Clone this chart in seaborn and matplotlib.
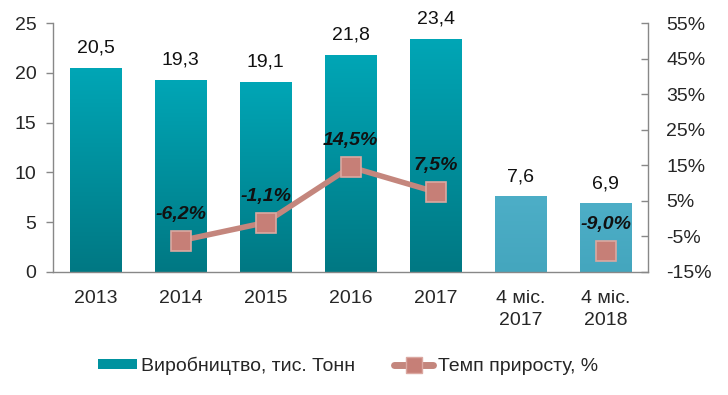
import numpy as np
import pandas as pd
import matplotlib
matplotlib.use("Agg")
import matplotlib.pyplot as plt
import seaborn as sns
from matplotlib.patches import Patch
from matplotlib.lines import Line2D
from matplotlib.colors import LinearSegmentedColormap

categories = ["2013", "2014", "2015", "2016", "2017", "4 міс.\n2017", "4 міс.\n2018"]
production = [20.5, 19.3, 19.1, 21.8, 23.4, 7.6, 6.9]
growth = [np.nan, -6.2, -1.1, 14.5, 7.5, np.nan, -9.0]
left_ticks = [0, 5, 10, 15, 20, 25]
right_ticks = [-15, -5, 5, 15, 25, 35, 45, 55]

sns.set_theme(style="white")
plt.rcParams['font.family'] = ['Liberation Sans', 'DejaVu Sans']
FS = 14

fig = plt.figure(figsize=(7.28, 3.95), dpi=100)
ax = fig.add_axes([53/728, 1-272/395, (648-53)/728, (272-23)/395])

df = pd.DataFrame({"cat": categories, "prod": production, "growth": growth})
df["x"] = np.arange(len(df))

main_col = "#009AA8"
light_col = "#4BACC6"
palette = [main_col]*5 + [light_col]*2
sns.barplot(data=df, x="cat", y="prod", hue="cat", palette=palette, legend=False,
            width=0.61, ax=ax, edgecolor="none", saturation=1)

# gradient fills
grad_main = LinearSegmentedColormap.from_list("g1", ["#007883", "#00A6B6"])
grad_light = LinearSegmentedColormap.from_list("g2", ["#44A6BE", "#4DAEC7"])
grad = np.linspace(0, 1, 256).reshape(-1, 1)
for i, p in enumerate(ax.patches):
    x0, y0 = p.get_x(), p.get_y()
    w, h = p.get_width(), p.get_height()
    cmap = grad_main if i < 5 else grad_light
    im = ax.imshow(grad, extent=[x0, x0+w, y0, y0+h], origin="lower", aspect="auto",
                   cmap=cmap, zorder=2)
    im.set_clip_path(p)
    p.set_facecolor("none")
    ax.text(x0 + w/2, y0 + h + 1.1, f"{production[i]:.1f}".replace(".", ","),
            ha="center", va="bottom", fontsize=FS, color="#111111")

ax.set_xlim(-0.5, len(categories)-0.5)
ax.set_ylim(0, 25)
ax.set_yticks(left_ticks)
ax.set_yticklabels([str(t) for t in left_ticks], fontsize=FS)
ax.set_xticks(range(len(categories)))
ax.set_xticklabels(categories, fontsize=FS, linespacing=1.4)
ax.set_xlabel("")
ax.set_ylabel("")
ax.set_xticks(np.arange(-0.5, len(categories), 1.0), minor=True)
ax.tick_params(axis="x", which="major", length=0, pad=13)
ax.tick_params(axis="x", which="minor", length=5, color="#888888", width=1, direction="out")
ax.tick_params(axis="y", length=5, color="#888888", width=1, direction="out", left=True, pad=7)

for s in ["top", "right"]:
    ax.spines[s].set_visible(False)
for s in ["left", "bottom"]:
    ax.spines[s].set_color("#888888")
    ax.spines[s].set_linewidth(1)

ax2 = ax.twinx()
line_col = "#C4867D"
mk = dict(marker="s", markersize=14, markerfacecolor="#C67F77",
          markeredgecolor="#DBA8A1", markeredgewidth=1.2)
seg = df.iloc[1:5]
sns.lineplot(x=seg["x"].values, y=seg["growth"].values, ax=ax2, color=line_col,
             linewidth=4, zorder=5, **mk)
last = df.iloc[[6]]
sns.lineplot(x=last["x"].values, y=last["growth"].values, ax=ax2, color=line_col,
             linewidth=4, zorder=5, **mk)

for i, g in enumerate(growth):
    if not np.isnan(g):
        ax2.text(i, g + 5.0, f"{g:.1f}%".replace(".", ","), ha="center", va="bottom",
                 fontsize=FS, fontweight="bold", fontstyle="italic", color="#111111")

ax2.set_ylim(-15, 55)
ax2.set_yticks(right_ticks)
ax2.set_yticklabels([f"{t}%" for t in right_ticks], fontsize=FS)
ax2.tick_params(axis="y", length=5, color="#888888", width=1, direction="in", right=True, pad=13)
for s in ["top", "left", "bottom"]:
    ax2.spines[s].set_visible(False)
ax2.spines["right"].set_color("#888888")
ax2.spines["right"].set_linewidth(1)
ax2.set_xlim(-0.5, len(categories)-0.5)

handles = [Patch(facecolor="#00929F", edgecolor="none"),
           Line2D([0], [0], color=line_col, linewidth=5, marker="s", markersize=11,
                  markerfacecolor="#C67F77", markeredgecolor="#DBA8A1")]
labels = ["Виробництво, тис. Тонн", "Темп приросту, %"]
fig.legend(handles, labels, loc="center", bbox_to_anchor=(348/728, 1-366/395), ncol=2,
           frameon=False, fontsize=FS, handlelength=2.0, handleheight=0.4,
           columnspacing=2.0, handletextpad=0.25)

fig.savefig("out.png", dpi=100)
